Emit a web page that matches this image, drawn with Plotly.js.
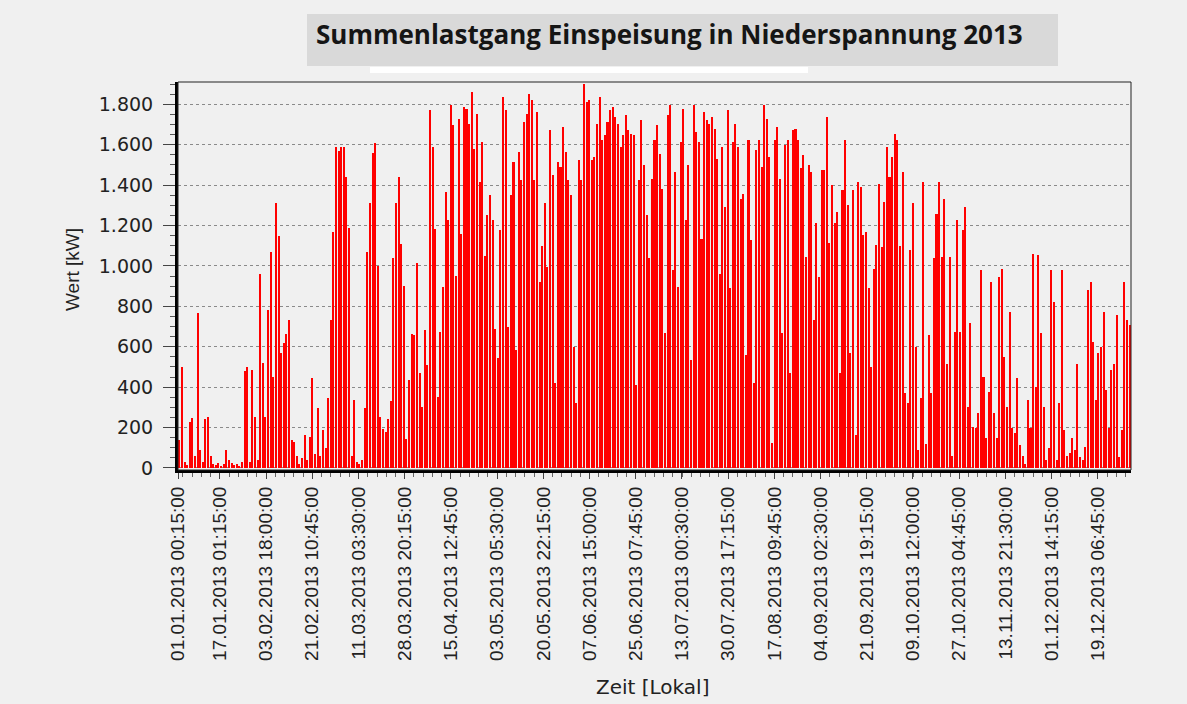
<!DOCTYPE html>
<html>
<head>
<meta charset="utf-8">
<script src="https://cdn.plot.ly/plotly-3.0.1.min.js"></script>
<style>html,body{margin:0;padding:0;background:#f0f0f0;}</style>
</head>
<body>
<div id="chart" style="width:1187px;height:704px;"></div>
<script>
// Daily peak feed-in (kW), one value per day
const jan = [140, 500, 30, 15, 230, 245, 60, 765, 90, 30, 240, 250, 60, 20, 15, 25, 10, 20, 90, 40, 25, 15, 20, 10, 30, 480, 500, 30, 485, 250, 40];
const feb = [960, 520, 250, 780, 1070, 450, 1310, 1150, 570, 620, 665, 730, 140, 130, 60, 20, 50, 165, 40, 155, 445, 70, 295, 60, 190, 100, 345, 730];
const mar = [1170, 1590, 1570, 1590, 1590, 1440, 1190, 60, 335, 30, 20, 40, 295, 1070, 1310, 1560, 1610, 1000, 250, 195, 180, 240, 330, 1040, 1310, 1440, 1110, 900, 145, 435, 665];
const apr = [657, 1012, 468, 300, 682, 509, 1770, 1589, 1185, 350, 674, 897, 1366, 1226, 1795, 1696, 950, 1729, 1160, 1786, 1778, 1704, 1861, 1580, 1753, 1415, 1613, 1050, 1251, 1350];
const may = [1226, 690, 542, 1177, 1836, 1770, 699, 1350, 1515, 583, 1564, 1424, 1712, 1753, 1852, 1819, 1424, 1761, 921, 1100, 1309, 995, 1671, 1449, 419, 1515, 1490, 1688, 1564, 1424, 1350];
const jun = [600, 320, 1523, 1424, 1902, 1811, 1819, 1523, 1539, 1700, 1836, 1622, 1646, 1712, 1770, 1786, 1737, 1704, 1589, 1650, 1745, 1671, 1655, 1646, 410, 1424, 1721, 1498, 1250, 1037];
const jul = [1432, 1622, 1696, 1556, 1383, 666, 1745, 1795, 979, 1465, 897, 1613, 1778, 1226, 1498, 534, 1795, 1663, 1613, 1135, 1761, 1721, 1704, 1737, 1679, 1531, 962, 1589, 1292, 1770, 889];
const aug = [1613, 1704, 1589, 1333, 1358, 559, 1622, 1127, 419, 1572, 1622, 1490, 1795, 1729, 1539, 122, 1622, 1688, 1432, 666, 1597, 1622, 468, 1671, 1679, 1622, 1482, 1548, 1045, 1498, 1465];
const sep = [732, 1210, 946, 1473, 1473, 1737, 1111, 1399, 1210, 1267, 468, 1374, 1622, 1300, 567, 1374, 163, 1416, 1391, 1152, 1168, 889, 501, 987, 1103, 1407, 1095, 1317, 1589, 1440];
const oct = [1540, 1655, 1622, 1100, 1465, 370, 320, 1078, 1309, 600, 89, 344, 1416, 120, 657, 370, 1037, 1259, 1416, 1045, 1333, 517, 1045, 60, 674, 1226, 674, 1177, 1292, 300, 715];
const nov = [204, 200, 270, 979, 452, 150, 377, 921, 270, 150, 946, 987, 550, 300, 773, 200, 171, 443, 114, 60, 20, 336, 200, 1061, 400, 1053, 666, 303, 40, 100];
const dec = [979, 822, 40, 320, 979, 188, 60, 73, 147, 89, 517, 56, 40, 105, 880, 921, 625, 336, 567, 600, 773, 386, 200, 485, 517, 757, 56, 188, 921, 732, 707];

const tickVals = ["2013-01-01 00:15","2013-01-17 01:15","2013-02-03 18:00","2013-02-21 10:45","2013-03-11 03:30","2013-03-28 20:15","2013-04-15 12:45","2013-05-03 05:30","2013-05-20 22:15","2013-06-07 15:00","2013-06-25 07:45","2013-07-13 00:30","2013-07-30 17:15","2013-08-17 09:45","2013-09-04 02:30","2013-09-21 19:15","2013-10-09 12:00","2013-10-27 04:45","2013-11-13 21:30","2013-12-01 14:15","2013-12-19 06:45"];
const tickLabels = ["01.01.2013 00:15:00","17.01.2013 01:15:00","03.02.2013 18:00:00","21.02.2013 10:45:00","11.03.2013 03:30:00","28.03.2013 20:15:00","15.04.2013 12:45:00","03.05.2013 05:30:00","20.05.2013 22:15:00","07.06.2013 15:00:00","25.06.2013 07:45:00","13.07.2013 00:30:00","30.07.2013 17:15:00","17.08.2013 09:45:00","04.09.2013 02:30:00","21.09.2013 19:15:00","09.10.2013 12:00:00","27.10.2013 04:45:00","13.11.2013 21:30:00","01.12.2013 14:15:00","19.12.2013 06:45:00"];

const titleText = "Summenlastgang Einspeisung in Niederspannung 2013";
const xTitle = "Zeit [Lokal]";
const yTitle = "Wert [kW]";

const months = [jan, feb, mar, apr, may, jun, jul, aug, sep, oct, nov, dec];
const pad = n => String(n).padStart(2, "0");
const xs = [], ys = [];
months.forEach((arr, m) => {
  arr.forEach((v, i) => {
    xs.push(`2013-${pad(m + 1)}-${pad(i + 1)} 12:00`);
    ys.push(v);
  });
});

const DAY = 86400000;
const trace = {
  type: "bar",
  x: xs,
  y: ys,
  width: xs.map(() => 0.78 * DAY),
  marker: { color: "#ff0000", line: { width: 0 } },
  hoverinfo: "x+y"
};

// plot area in px: x 178..1131, y 82..470
const px = x => (x - 178) / 953;
const py = y => (470 - y) / 388;

const layout = {
  width: 1187, height: 704,
  paper_bgcolor: "#f0f0f0",
  plot_bgcolor: "#f0f0f0",
  margin: { l: 178, r: 56, t: 82, b: 234, autoexpand: false },
  separators: ",.",
  showlegend: false,
  bargap: 0,
  xaxis: {
    type: "date",
    range: ["2013-01-01 00:00", "2014-01-01 00:00"],
    tickmode: "array",
    tickvals: tickVals,
    ticktext: tickLabels,
    tickangle: -90,
    tickfont: { family: "Liberation Sans, Arial, sans-serif", size: 19, color: "#222" },
    ticks: "outside", ticklen: 6, tickcolor: "#444", tickwidth: 1,
    showline: true, linecolor: "#000", linewidth: 3,
    showgrid: false, zeroline: false,
    minor: { ticks: "outside", ticklen: 4, tickcolor: "#666", dtick: 3.5396 * DAY, tick0: "2013-01-17 01:15", showgrid: false }
  },
  yaxis: {
    range: [-10, 1910],
    tick0: 0, dtick: 200,
    tickformat: ",d",
    tickfont: { family: "DejaVu Sans, sans-serif", size: 19, color: "#222" },
    ticks: "outside", ticklen: 12, tickcolor: "#444", tickwidth: 1,
    ticklabelstandoff: 6,
    showline: true, linecolor: "#000", linewidth: 3,
    showgrid: true, gridcolor: "#8a8a8a", griddash: "dot", gridwidth: 1,
    zeroline: false,
    minor: { ticks: "outside", ticklen: 5, tickcolor: "#555", dtick: 50, showgrid: false }
  },
  shapes: [
    { type: "rect", xref: "paper", yref: "paper", x0: 0, x1: 1, y0: 0, y1: 1, line: { color: "#222", width: 1 }, layer: "above" },
    { type: "rect", xref: "paper", yref: "paper", x0: px(307), x1: px(1058), y0: py(66), y1: py(14), fillcolor: "#d9d9d9", line: { width: 0 }, layer: "below" },
    { type: "rect", xref: "paper", yref: "paper", x0: px(370), x1: px(808), y0: py(73), y1: py(67), fillcolor: "#ffffff", line: { width: 0 }, layer: "below" }
  ],
  annotations: [
    { text: "<b>" + titleText + "</b>", xref: "paper", yref: "paper", x: px(669), y: py(34), xanchor: "center", yanchor: "middle", showarrow: false,
      font: { family: "Open Sans, sans-serif", size: 26, color: "#151515" } },
    { text: yTitle, xref: "paper", yref: "paper", x: px(72), y: py(270), xanchor: "center", yanchor: "middle", textangle: -90, showarrow: false,
      font: { family: "Liberation Sans, Arial, sans-serif", size: 19, color: "#222" } },
    { text: xTitle, xref: "paper", yref: "paper", x: px(652), y: py(687), xanchor: "center", yanchor: "middle", showarrow: false,
      font: { family: "DejaVu Sans, sans-serif", size: 20, color: "#222" } }
  ]
};

Plotly.newPlot("chart", [trace], layout, { displayModeBar: false, staticPlot: true });
</script>
</body>
</html>
